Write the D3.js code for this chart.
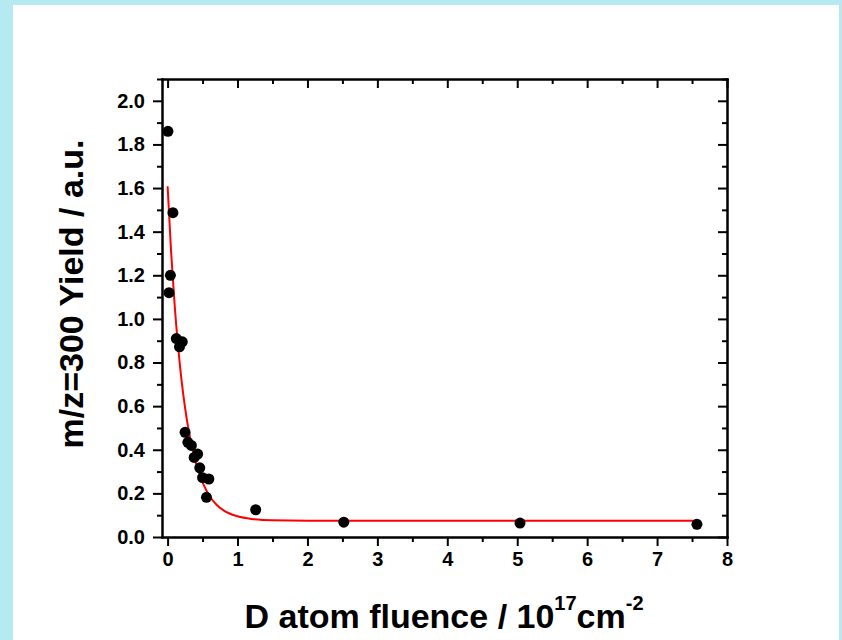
<!DOCTYPE html>
<html>
<head>
<meta charset="utf-8">
<script src="https://cdn.jsdelivr.net/npm/d3@7"></script>
<style>
	html, body { margin: 0; padding: 0; background: #fff; }
	svg { display: block; }
	.axis path, .axis line { stroke: #000; stroke-width: 2; }
	.axis text { font-family: "Liberation Sans", Arial, sans-serif; font-weight: bold; font-size: 20px; fill: #000; }
</style>
</head>
<body>
<svg id="chart" width="842" height="640"></svg>
<script>
// measured points: D atom fluence (10^17 cm^-2) vs m/z=300 yield
var fluence = [0.005, 0.02, 0.04, 0.076, 0.125, 0.17, 0.21, 0.25, 0.29, 0.34, 0.38, 0.43, 0.46, 0.50, 0.556, 0.59, 1.26, 2.52, 5.04, 7.57];
var yieldVal = [1.86, 1.12, 1.20, 1.487, 0.91, 0.872, 0.895, 0.48, 0.434, 0.42, 0.365, 0.38, 0.317, 0.272, 0.182, 0.266, 0.125, 0.068, 0.064, 0.058];

// fitted curve
var fitX = [0, 0.05, 0.1, 0.15, 0.2, 0.25, 0.3, 0.35, 0.4, 0.5, 0.6, 0.7, 0.8, 1.0, 1.2, 1.5, 2, 3, 5, 7.57];
var fitY = [1.608, 1.309, 1.067, 0.874, 0.717, 0.592, 0.491, 0.41, 0.344, 0.25, 0.188, 0.148, 0.122, 0.095, 0.083, 0.077, 0.075, 0.075, 0.075, 0.075];

var xMajor = [0, 1, 2, 3, 4, 5, 6, 7, 8];
var xMinor = [0.5, 1.5, 2.5, 3.5, 4.5, 5.5, 6.5, 7.5];
var yMajor = [0, 0.2, 0.4, 0.6, 0.8, 1.0, 1.2, 1.4, 1.6, 1.8, 2.0];
var yMinor = [0.1, 0.3, 0.5, 0.7, 0.9, 1.1, 1.3, 1.5, 1.7, 1.9, 2.1];

var svg = d3.select("#chart");
var margin = { left: 162, top: 79, right: 115, bottom: 103 };
var width = 842 - margin.left - margin.right;
var height = 640 - margin.top - margin.bottom;

// cyan page border
svg.append("rect").attr("x", 0).attr("y", 0).attr("width", 842).attr("height", 640).attr("fill", "#b5eaf1");
svg.append("rect").attr("x", 13).attr("y", 5).attr("width", 826).attr("height", 640).attr("fill", "#fff");

var xScale = d3.scaleLinear().domain([-0.08, 8.0]).range([0, width]);
var yScale = d3.scaleLinear().domain([0, 2.1]).range([height, 0]);

var g = svg.append("g")
	.attr("transform", "translate(" + margin.left + "," + margin.top + ")");

// minor ticks first, then major with labels
var drawAxis = function(axis, tx, ty, showLabels) {
	var a = g.append("g")
		.attr("class", "axis")
		.attr("transform", "translate(" + tx + "," + ty + ")")
		.call(axis);
	if (!showLabels) a.selectAll("text").remove();
	return a;
}

var fmt1 = d3.format(".1f");

drawAxis(d3.axisBottom(xScale).tickValues(xMinor).tickSize(5).tickSizeOuter(0), 0, height, false);
drawAxis(d3.axisBottom(xScale).tickValues(xMajor).tickSize(9).tickSizeOuter(0).tickPadding(6).tickFormat(d3.format("d")), 0, height, true);
drawAxis(d3.axisLeft(yScale).tickValues(yMinor).tickSize(5).tickSizeOuter(0), 0, 0, false);
drawAxis(d3.axisLeft(yScale).tickValues(yMajor).tickSize(9).tickSizeOuter(0).tickPadding(8).tickFormat(fmt1), 0, 0, true);
// mirrored axes, ticks inward
drawAxis(d3.axisTop(xScale).tickValues(xMinor).tickSize(-5).tickSizeOuter(0), 0, 0, false);
drawAxis(d3.axisTop(xScale).tickValues(xMajor).tickSize(-9).tickSizeOuter(0), 0, 0, false);
drawAxis(d3.axisRight(yScale).tickValues(yMinor).tickSize(-5).tickSizeOuter(0), width, 0, false);
drawAxis(d3.axisRight(yScale).tickValues(yMajor).tickSize(-9).tickSizeOuter(0), width, 0, false);

g.selectAll(".axis path").attr("stroke-linecap", "square");

// fit line
var fitData = fitX.map(function(d, i) { return [d, fitY[i]]; });
var line = d3.line()
	.x(function(d) { return xScale(d[0]); })
	.y(function(d) { return yScale(d[1]); })
	.curve(d3.curveMonotoneX);

g.append("path")
	.datum(fitData)
	.attr("d", line)
	.attr("fill", "none")
	.attr("stroke", "#ff0000")
	.attr("stroke-width", 2);

// data points
g.selectAll("circle")
	.data(fluence)
	.enter()
	.append("circle")
	.attr("cx", function(d) { return xScale(d); })
	.attr("cy", function(d, i) { return yScale(yieldVal[i]); })
	.attr("r", 5.5)
	.attr("fill", "#000");

// axis titles
var xTitle = svg.append("text")
	.attr("x", 444)
	.attr("y", 628)
	.attr("text-anchor", "middle")
	.style("font-family", "'Liberation Sans', Arial, sans-serif")
	.style("font-weight", "bold")
	.style("font-size", "34px");
xTitle.append("tspan").text("D atom fluence / 10");
xTitle.append("tspan").attr("dy", -18).style("font-size", "20px").text("17");
xTitle.append("tspan").attr("dy", 18).text("cm");
xTitle.append("tspan").attr("dy", -18).style("font-size", "20px").text("-2");

svg.append("text")
	.attr("transform", "translate(83,294) rotate(-90)")
	.attr("text-anchor", "middle")
	.style("font-family", "'Liberation Sans', Arial, sans-serif")
	.style("font-weight", "bold")
	.style("font-size", "34px")
	.text("m/z=300 Yield / a.u.");
</script>
</body>
</html>
